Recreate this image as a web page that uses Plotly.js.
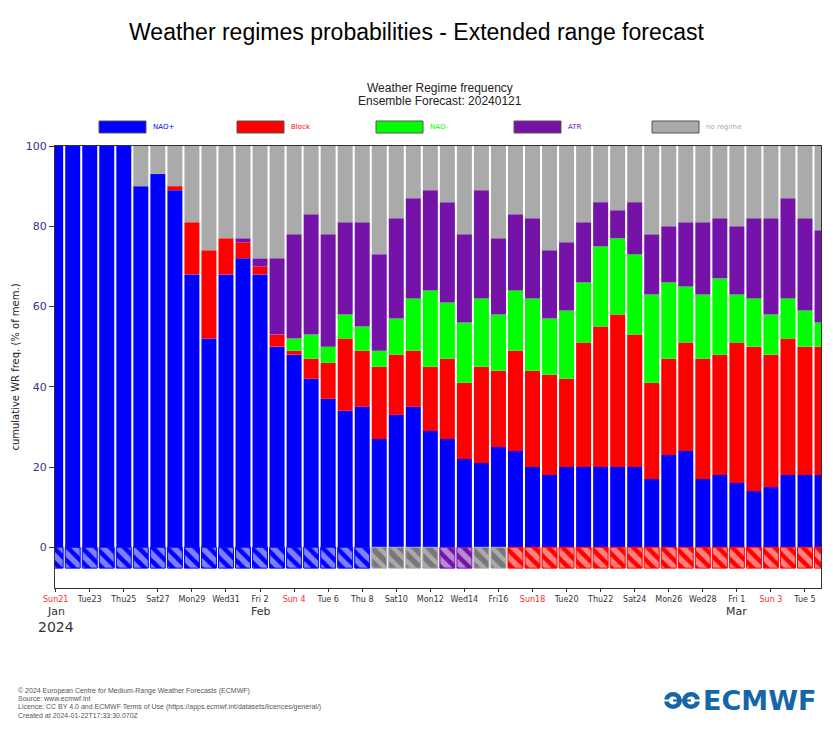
<!DOCTYPE html>
<html>
<head>
<meta charset="utf-8">
<script src="https://cdn.plot.ly/plotly-3.0.1.min.js"></script>
<style>html,body{margin:0;padding:0;background:#fff;}#chart{width:833px;height:750px;}</style>
</head>
<body>
<div id="chart"></div>
<script>
// ---- data ----
const dates = ['2024-01-21','2024-01-22','2024-01-23','2024-01-24','2024-01-25','2024-01-26','2024-01-27','2024-01-28','2024-01-29','2024-01-30','2024-01-31',
'2024-02-01','2024-02-02','2024-02-03','2024-02-04','2024-02-05','2024-02-06','2024-02-07','2024-02-08','2024-02-09','2024-02-10','2024-02-11','2024-02-12','2024-02-13','2024-02-14','2024-02-15','2024-02-16','2024-02-17','2024-02-18','2024-02-19','2024-02-20','2024-02-21','2024-02-22','2024-02-23','2024-02-24','2024-02-25','2024-02-26','2024-02-27','2024-02-28','2024-02-29',
'2024-03-01','2024-03-02','2024-03-03','2024-03-04','2024-03-05','2024-03-06'];
const naoPlus  = [100,100,100,100,100,90,93,89,68,52,68,72,68,50,48,42,37,34,35,27,33,35,29,27,22,21,25,24,20,18,20,20,20,20,20,17,23,24,17,18,16,14,15,18,18,18];
const block    = [0,0,0,0,0,0,0,1,13,22,9,4,2,3,1,5,9,18,14,18,15,14,16,20,19,24,19,25,24,25,22,31,35,38,33,24,24,27,30,30,35,36,33,34,32,32];
const naoMinus = [0,0,0,0,0,0,0,0,0,0,0,0,0,0,3,6,4,6,6,4,9,13,19,14,15,17,14,15,18,14,17,15,20,19,20,22,19,14,16,19,12,12,10,10,9,6];
const atr      = [0,0,0,0,0,0,0,0,0,0,0,1,2,19,26,30,28,23,26,24,25,25,25,25,22,27,19,19,20,17,17,15,11,7,13,15,14,16,18,15,17,20,24,25,23,23];
const noRegime = [0,0,0,0,0,10,7,10,19,26,23,23,28,28,22,17,22,19,19,27,18,13,11,14,22,11,23,17,18,26,24,19,14,16,14,22,20,19,19,18,20,18,18,13,18,21];
const dominant = ['NAO+','NAO+','NAO+','NAO+','NAO+','NAO+','NAO+','NAO+','NAO+','NAO+','NAO+','NAO+','NAO+','NAO+','NAO+','NAO+','NAO+','NAO+','NAO+',
'no regime','no regime','no regime','no regime','ATR','ATR','no regime','no regime',
'Block','Block','Block','Block','Block','Block','Block','Block','Block','Block','Block','Block','Block','Block','Block','Block','Block','Block','Block'];
const regimeNames = ['NAO+','Block','NAO-','ATR','no regime'];
const tickDates = ['2024-01-21','2024-01-23','2024-01-25','2024-01-27','2024-01-29','2024-01-31','2024-02-02','2024-02-04','2024-02-06','2024-02-08','2024-02-10','2024-02-12','2024-02-14','2024-02-16','2024-02-18','2024-02-20','2024-02-22','2024-02-24','2024-02-26','2024-02-28','2024-03-01','2024-03-03','2024-03-05'];
const tickLabels = ['Sun21','Tue23','Thu25','Sat27','Mon29','Wed31','Fri 2','Sun 4','Tue 6','Thu 8','Sat10','Mon12','Wed14','Fri16','Sun18','Tue20','Thu22','Sat24','Mon26','Wed28','Fri 1','Sun 3','Tue 5'];
const yTicks = [0,20,40,60,80,100];

// ---- styles ----
const colors = {'NAO+':'#0000ff','Block':'#ff0000','NAO-':'#00ff00','ATR':'#7512a8','no regime':'#aaaaaa'};
const series = [naoPlus, block, naoMinus, atr, noRegime];
const DAY = 86400000;
const barW = 0.88*DAY;

const traces = regimeNames.map((n,i)=>({
  type:'bar', name:n, x:dates, y:series[i], width:barW,
  marker:{color:colors[n], line:{width:0}}, showlegend:false, hoverinfo:'x+y+name'
}));
traces.push({
  type:'bar', name:'dominant', x:dates, y:dates.map(()=>-5.2), width:barW, showlegend:false,
  marker:{color:dominant.map(d=>colors[d]), line:{color:dominant.map(d=>colors[d]), width:1},
          pattern:{shape:'\\', fgcolor:'#ffffff', fillmode:'overlay', size:10, solidity:0.55}},
  hoverinfo:'skip'
});

// pixel -> paper helpers (plot area x 55..821, y 146..588)
const L=55, R=821, T=146, B=588;
const px = v => (v-L)/(R-L);
const py = v => (B-v)/(B-T);

const sundayRed = t => t.startsWith('Sun') ? '<span style="color:#ff2a2a">'+t+'</span>' : t;

const shapes = [];
const annotations = [];
// legend
const legX = [99,237,376,514,652];
regimeNames.forEach((n,i)=>{
  shapes.push({type:'rect', xref:'paper', yref:'paper', x0:px(legX[i]), x1:px(legX[i]+47), y0:py(133), y1:py(121),
    fillcolor:colors[n], line:{color:'#555', width:1}});
  annotations.push({xref:'paper', yref:'paper', x:px(legX[i]+52), y:py(127), xanchor:'left', yanchor:'middle',
    text:n, showarrow:false, font:{family:'DejaVu Sans', size:7, color:colors[n]}});
});
// subtitle
annotations.push({xref:'paper', yref:'paper', x:px(440), y:py(88), xanchor:'center', yanchor:'middle', showarrow:false,
  text:'Weather Regime frequency', font:{family:'Liberation Sans', size:12, color:'#222'}});
annotations.push({xref:'paper', yref:'paper', x:px(440), y:py(101), xanchor:'center', yanchor:'middle', showarrow:false,
  text:'Ensemble Forecast: 20240121', font:{family:'Liberation Sans', size:12, color:'#222'}});
// month labels
[['2024-01-21','Jan'],['2024-02-02','Feb'],['2024-03-01','Mar']].forEach(m=>{
  annotations.push({xref:'x', yref:'paper', x:m[0], y:py(611), xanchor:'center', yanchor:'middle', showarrow:false,
    text:m[1], font:{family:'DejaVu Sans', size:11, color:'#333'}});
});
annotations.push({xref:'x', yref:'paper', x:'2024-01-21', y:py(627), xanchor:'center', yanchor:'middle', showarrow:false,
  text:'2024', font:{family:'DejaVu Sans', size:14, color:'#333'}});
// footer
const footer = ['© 2024 European Centre for Medium-Range Weather Forecasts (ECMWF)','Source: www.ecmwf.int',
  'Licence: CC BY 4.0 and ECMWF Terms of Use (https://apps.ecmwf.int/datasets/licences/general/)','Created at 2024-01-22T17:33:30.070Z'];
footer.forEach((t,i)=>{
  annotations.push({xref:'paper', yref:'paper', x:px(16), y:py(690.5+8.3*i), xanchor:'left', yanchor:'middle', showarrow:false,
    text:t, font:{family:'Liberation Sans', size:7, color:'#555'}});
});
// ECMWF logo
const logoBlue = '#1466a8';
annotations.push({xref:'paper', yref:'paper', x:px(701), y:py(700.5), xanchor:'left', yanchor:'middle', showarrow:false,
  text:'<b>ECMWF</b>', font:{family:'DejaVu Sans', size:27, color:logoBlue}});
shapes.push({type:'circle', xref:'paper', yref:'paper', x0:px(664), x1:px(682), y0:py(709), y1:py(692), fillcolor:logoBlue, line:{width:0}});
shapes.push({type:'circle', xref:'paper', yref:'paper', x0:px(682), x1:px(700), y0:py(709), y1:py(692), fillcolor:logoBlue, line:{width:0}});
shapes.push({type:'circle', xref:'paper', yref:'paper', x0:px(669), x1:px(677), y0:py(704.5), y1:py(696.5), fillcolor:'#fff', line:{width:0}});
shapes.push({type:'circle', xref:'paper', yref:'paper', x0:px(687), x1:px(695), y0:py(704.5), y1:py(696.5), fillcolor:'#fff', line:{width:0}});
shapes.push({type:'rect', xref:'paper', yref:'paper', x0:px(664), x1:px(673), y0:py(701.5), y1:py(699.5), fillcolor:'#fff', line:{width:0}});
shapes.push({type:'rect', xref:'paper', yref:'paper', x0:px(691), x1:px(701), y0:py(701.5), y1:py(699.5), fillcolor:'#fff', line:{width:0}});
shapes.push({type:'rect', xref:'paper', yref:'paper', x0:px(673), x1:px(691), y0:py(701.5), y1:py(699.5), fillcolor:logoBlue, line:{width:0}});

const layout = {
  width:833, height:750,
  margin:{l:L, r:833-R, t:T, b:750-B},
  paper_bgcolor:'#fff', plot_bgcolor:'#fff',
  barmode:'relative',
  title:{text:'Weather regimes probabilities - Extended range forecast', x:0.5, xref:'container', xanchor:'center',
    y:1-32/750, yref:'container', yanchor:'middle', font:{family:'Liberation Sans', size:23, color:'#000'}},
  xaxis:{type:'date', range:[new Date(Date.UTC(2024,0,21)).getTime()-0.04*DAY, new Date(Date.UTC(2024,0,21)).getTime()+44.94*DAY],
    tickmode:'array', tickvals:tickDates, ticktext:tickLabels.map(sundayRed), ticks:'outside', ticklen:3, tickcolor:'#333',
    tickfont:{family:'DejaVu Sans', size:8, color:'#333'}, showgrid:false, zeroline:false,
    showline:true, linecolor:'#333', linewidth:1, mirror:true},
  yaxis:{range:[-10.15,100], tickmode:'array', tickvals:yTicks, ticks:'outside', ticklen:5, tickcolor:'#333',
    tickfont:{family:'DejaVu Sans', size:11, color:'#33338a'}, showgrid:false, zeroline:false,
    showline:true, linecolor:'#333', linewidth:1, mirror:true,
    title:{text:'cumulative WR freq. (% of mem.)', standoff:4, font:{family:'DejaVu Sans', size:10, color:'#222'}}},
  shapes:shapes, annotations:annotations, showlegend:false
};
Plotly.newPlot('chart', traces, layout, {displayModeBar:false, staticPlot:true});
</script>
</body>
</html>
